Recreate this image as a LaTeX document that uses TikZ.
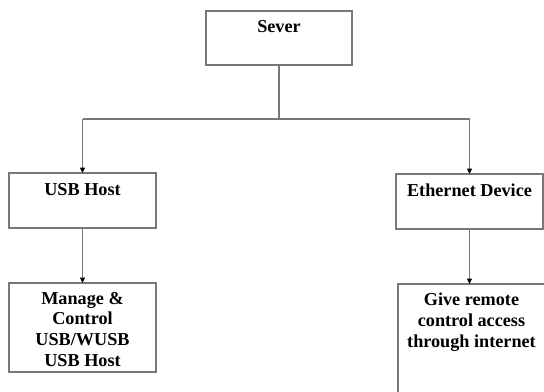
\documentclass[tikz,border=0pt]{standalone}
\usepackage{fontspec}
\setmainfont{Liberation Serif}
\usetikzlibrary{arrows.meta,calc}
\definecolor{edge}{RGB}{120,120,120}
\begin{document}
\begin{tikzpicture}[x=0.75pt,y=-0.75pt,
  box/.style={draw=edge, line width=0.8pt, inner sep=0pt, outer sep=0pt,
    minimum width=110.25pt, minimum height=#1},
  caption/.style={anchor=north, inner sep=0pt, align=center,
    font=\fontsize{13.65pt}{15.5pt}\selectfont\bfseries},
  link/.style={draw=edge, line width=0.8pt},
  arrowlink/.style={link, -{Triangle[length=4pt,width=3.6pt,color=black]}}]
  \useasboundingbox (0,0) rectangle (544,392);
  \clip (0,0) rectangle (544,392);

  % boxes
  \node[box=40.5pt, minimum width=109.5pt] (sever) at (279,38) {};
  \node[box=41.25pt] (usb) at (82.5,200.5) {};
  \node[box=41.25pt] (eth) at (469.5,201.5) {};
  \node[box=66.75pt] (manage) at (82.5,327.5) {};
  \node[box=94.5pt] (give) at (471.5,347) {};

  % box texts
  \node[caption] (tsever) at ($(sever.north)+(0,6.5)$) {\strut Sever};
  \node[caption] (tusb) at ($(usb.north)+(0,7.5)$) {\strut USB Host};
  \node[caption] (teth) at ($(eth.north)+(0,7.5)$) {\strut Ethernet Device};
  \node[caption] (tmanage) at ($(manage.north)+(0,6.5)$)
    {\strut Manage \&\\\strut Control\\\strut USB/WUSB\\\strut USB Host};
  \node[caption] (tgive) at ($(give.north)+(0,7)$)
    {\strut Give remote\\\strut control access\\\strut through internet};

  % connectors
  \coordinate (bus) at (0,119);
  \draw[link] (sever.south) -- (sever.south |- bus);
  \draw[link] (usb.north |- bus) -- (eth.north |- bus);
  \draw[arrowlink] (usb.north |- bus) -- (usb.north);
  \draw[arrowlink] (eth.north |- bus) -- (eth.north);
  \draw[arrowlink] (usb.south) -- (manage.north);
  \draw[arrowlink] (eth.south) -- (eth.south |- give.north);
\end{tikzpicture}
\end{document}
